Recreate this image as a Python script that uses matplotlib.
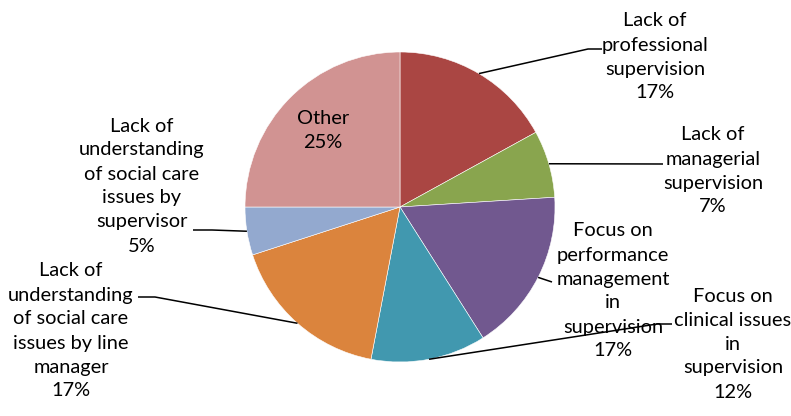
import numpy as np
import matplotlib.pyplot as plt

# Problems with supervision - share of responses
labels = ['Lack of\nprofessional\nsupervision',
          'Lack of\nmanagerial\nsupervision',
          'Focus on\nperformance\nmanagement\nin\nsupervision',
          'Focus on\nclinical issues\nin\nsupervision',
          'Lack of\nunderstanding\nof social care\nissues by line\nmanager',
          'Lack of\nunderstanding\nof social care\nissues by\nsupervisor',
          'Other']
values = [17, 7, 17, 12, 17, 5, 25]
colors = ['#AA4643', '#89A54E', '#71588F', '#4198AF', '#DB843D', '#93A9CF', '#D19392']

W, H = 791, 416
plt.rcParams['font.family'] = ['Lato', 'DejaVu Sans']

fig = plt.figure(figsize=(W / 100, H / 100), dpi=100)
ax = fig.add_axes([0, 0, 1, 1])

cx, cy, R = 400, H - 207, 155
wedges, _ = ax.pie(values, colors=colors, startangle=90, counterclock=False,
                   center=(cx, cy), radius=R, frame=True,
                   wedgeprops=dict(edgecolor='white', linewidth=0.4))
ax.set_xlim(0, W)
ax.set_ylim(0, H)
ax.axis('off')

# label block centres (pixels from top-left) and leader line routes
text_pos = [(655, 57), (713, 171), (613, 291), (733, 344), (71, 331), (142, 186), (323, 131)]
leaders = [[(588, 49), (602, 49)],
           [(663, 164)],
           [(552, 282)],
           [(657, 324), (672, 324)],
           [(155, 297), (138, 297)],
           [(212, 230), (193, 230)],
           None]

for i, w in enumerate(wedges):
    txt = '%s\n%d%%' % (labels[i], round(values[i]))
    tx, ty = text_pos[i]
    ax.text(tx, H - ty, txt, ha='center', va='center', multialignment='center',
            fontsize=14.4, linespacing=1.5, color='black')
    if leaders[i] is None:
        continue
    mid = np.deg2rad((w.theta1 + w.theta2) / 2)
    pts = [(cx + R * np.cos(mid), cy + R * np.sin(mid))]
    pts += [(x, H - y) for x, y in leaders[i]]
    xs, ys = zip(*pts)
    ax.plot(xs, ys, color='black', lw=1.1, solid_capstyle='butt')

fig.savefig('out.png', dpi=100)
